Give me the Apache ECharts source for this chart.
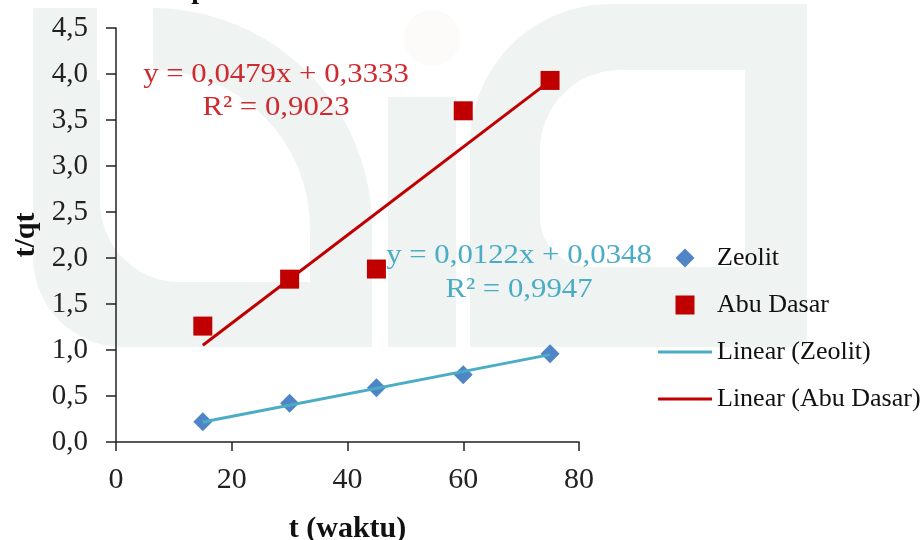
<!DOCTYPE html>
<html>
<head>
<meta charset="utf-8">
<script src="https://cdn.jsdelivr.net/npm/echarts@6/dist/echarts.min.js"></script>
<style>
html,body{margin:0;padding:0;background:#fff;}
#chart{width:924px;height:540px;}
</style>
</head>
<body>
<div id="chart"></div>
<script>
// ---- data ----
const tValues = [15, 30, 45, 60, 75];
const zeolitValues = [0.22, 0.42, 0.59, 0.73, 0.96];
const abuDasarValues = [1.26, 1.77, 1.88, 3.60, 3.93];
const zeolitFit = [0.0122, 0.0348];      // slope, intercept
const abuDasarFit = [0.0479, 0.3333];    // slope, intercept
const trendRange = [15, 75];
const zeolitEq = ['y = 0,0122x + 0,0348', 'R² = 0,9947'];
const abuDasarEq = ['y = 0,0479x + 0,3333', 'R² = 0,9023'];
const seriesNames = ['Zeolit', 'Abu Dasar', 'Linear (Zeolit)', 'Linear (Abu Dasar)'];
const xTitle = 't (waktu)';
const yTitle = 't/qt';

const serif = '"Liberation Serif", "DejaVu Serif", serif';
const wm = '#eff3f1';

function pairs(xs, ys) { return xs.map((x, i) => [x, ys[i]]); }
function trend(fit) { return trendRange.map(x => [x, fit[0] * x + fit[1]]); }

const chart = echarts.init(document.getElementById('chart'));
chart.setOption({
  animation: false,
  backgroundColor: '#ffffff',
  grid: { left: 116, right: 345, top: 28, bottom: 98, containLabel: false, outerBoundsMode: 'none' },
  xAxis: {
    type: 'value', min: 0, max: 80, interval: 20,
    name: xTitle, nameLocation: 'middle', nameGap: 72,
    nameTextStyle: { fontFamily: serif, fontWeight: 'bold', fontSize: 30, color: '#111' },
    axisLine: { show: true, lineStyle: { color: '#222', width: 1.5 } },
    axisTick: { show: true, inside: false, length: 9, lineStyle: { color: '#222', width: 1.5 } },
    axisLabel: { margin: 23, fontFamily: serif, fontSize: 30, color: '#222' },
    splitLine: { show: false }
  },
  yAxis: {
    type: 'value', min: 0, max: 4.5, interval: 0.5,
    name: yTitle, nameLocation: 'middle', nameGap: 72, nameRotate: 90,
    nameTextStyle: { fontFamily: serif, fontWeight: 'bold', fontSize: 30, color: '#111' },
    axisLine: { show: true, lineStyle: { color: '#222', width: 1.5 } },
    axisTick: { show: true, inside: false, length: 10, lineStyle: { color: '#222', width: 1.5 } },
    axisLabel: { margin: 28, fontFamily: serif, fontSize: 29, color: '#222',
      formatter: v => v.toFixed(1).replace('.', ',') },
    splitLine: { show: false }
  },
  legend: {
    orient: 'vertical', left: 653, top: 240,
    itemWidth: 54, itemHeight: 19, itemGap: 21,
    symbolKeepAspect: true,
    itemStyle: { borderWidth: 0 },
    textStyle: { fontFamily: serif, fontSize: 26, color: '#111' },
    data: [
      { name: seriesNames[0], icon: 'path://M10,0 L20,10 L10,20 L0,10 Z' },
      { name: seriesNames[1], icon: 'path://M0,0 L10,0 L10,10 L0,10 Z' },
      { name: seriesNames[2], icon: 'path://M0,0 L54,0 L54,3 L0,3 Z' },
      { name: seriesNames[3], icon: 'path://M0,0 L54,0 L54,3 L0,3 Z' }
    ]
  },
  series: [
    { name: seriesNames[0], type: 'scatter', data: pairs(tValues, zeolitValues),
      symbol: 'diamond', symbolSize: [19, 19], z: 3,
      itemStyle: { color: '#4f85c6', opacity: 1 } },
    { name: seriesNames[1], type: 'scatter', data: pairs(tValues, abuDasarValues),
      symbol: 'rect', symbolSize: 19, z: 3,
      itemStyle: { color: '#c00000', opacity: 1 } },
    { name: seriesNames[2], type: 'line', data: trend(zeolitFit), symbol: 'none', z: 4,
      itemStyle: { color: '#4bacc6' }, lineStyle: { color: '#4bacc6', width: 3 } },
    { name: seriesNames[3], type: 'line', data: trend(abuDasarFit), symbol: 'none', z: 4,
      itemStyle: { color: '#c00000' }, lineStyle: { color: '#c00000', width: 3 } }
  ],
  graphic: [
    // faint watermark in the background
    { type: 'rect', z: -10, silent: true, shape: { x: 33, y: 8, width: 339, height: 339, r: [0, 220, 0, 90] }, style: { fill: wm } },
    { type: 'rect', z: -9, silent: true, shape: { x: 100, y: 70, width: 210, height: 212, r: [0, 158, 0, 80] }, style: { fill: '#fff' } },
    { type: 'rect', z: -9, silent: true, shape: { x: 97, y: 0, width: 56, height: 80 }, style: { fill: '#fff' } },
    { type: 'rect', z: -10, silent: true, shape: { x: 388, y: 97, width: 68, height: 250 }, style: { fill: wm } },
    { type: 'circle', z: -10, silent: true, shape: { cx: 432, cy: 38, r: 28 }, style: { fill: '#fdfbf9' } },
    { type: 'rect', z: -10, silent: true, shape: { x: 470, y: 4, width: 337, height: 343, r: [140, 0, 0, 0] }, style: { fill: wm } },
    { type: 'rect', z: -9, silent: true, shape: { x: 540, y: 70, width: 205, height: 197, r: [80, 0, 0, 50] }, style: { fill: '#fff' } },
    // cut-off title fragment
    { type: 'text', z: 5, x: 199, y: 5, silent: true,
      style: { text: 'p', font: 'bold 28px ' + serif, fill: '#111', textAlign: 'center', textVerticalAlign: 'bottom' } },
    // trendline equations
    { type: 'text', z: 5, x: 276, y: 75, scaleX: 1.1, silent: true,
      style: { text: abuDasarEq[0], font: '28px ' + serif, fill: '#cf2a2f', textAlign: 'center', textVerticalAlign: 'middle' } },
    { type: 'text', z: 5, x: 276, y: 108, scaleX: 1.1, silent: true,
      style: { text: abuDasarEq[1], font: '28px ' + serif, fill: '#cf2a2f', textAlign: 'center', textVerticalAlign: 'middle' } },
    { type: 'text', z: 5, x: 519, y: 256, scaleX: 1.1, silent: true,
      style: { text: zeolitEq[0], font: '28px ' + serif, fill: '#4bacc6', textAlign: 'center', textVerticalAlign: 'middle' } },
    { type: 'text', z: 5, x: 519, y: 290, scaleX: 1.1, silent: true,
      style: { text: zeolitEq[1], font: '28px ' + serif, fill: '#4bacc6', textAlign: 'center', textVerticalAlign: 'middle' } }
  ]
});
</script>
</body>
</html>
